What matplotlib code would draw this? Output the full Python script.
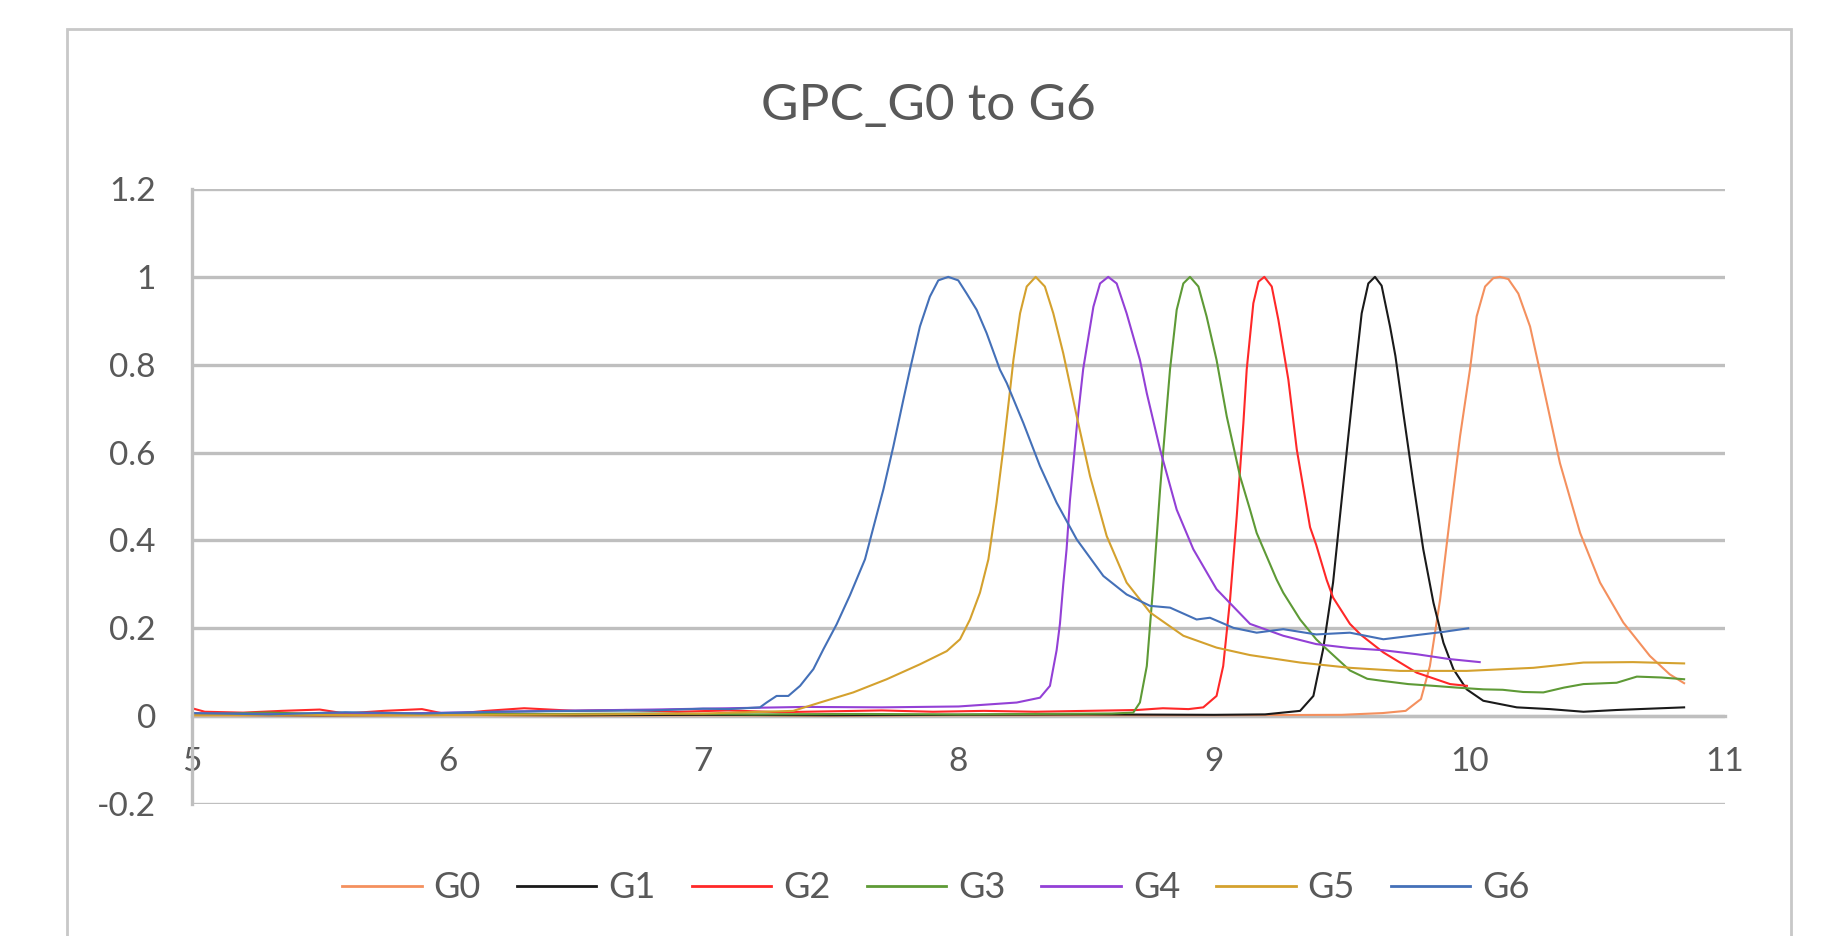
#!/usr/bin/python3

import numpy as np
import matplotlib
matplotlib.use('Agg')
import matplotlib.pyplot as plt
from matplotlib.patches import Rectangle

# ---- data (elution time, normalised signal) ----
series_names = ['G0', 'G1', 'G2', 'G3', 'G4', 'G5', 'G6']
series_colors = ['#F4905E', '#1A1A1A', '#FF2828', '#5E9A36', '#9340D6', '#D4A12E', '#4470B8']

g0_x = [5.0, 5.5, 6.0, 6.5, 7.0, 7.5, 8.0, 8.5, 9.0, 9.5, 9.66, 9.75, 9.81, 9.845, 9.885,
        9.924, 9.963, 10.002, 10.028, 10.061, 10.093, 10.119, 10.152, 10.191, 10.237, 10.283,
        10.354, 10.433, 10.511, 10.602, 10.706, 10.784, 10.84]
g0_y = [0.002, 0.001, 0.002, 0.001, 0.002, 0.001, 0.002, 0.002, 0.002, 0.003, 0.007, 0.012,
        0.039, 0.114, 0.266, 0.455, 0.637, 0.79, 0.91, 0.978, 0.997, 1.0, 0.995, 0.962, 0.887,
        0.766, 0.576, 0.417, 0.304, 0.213, 0.137, 0.095, 0.075]

g1_x = [5.0, 5.5, 6.0, 6.5, 7.0, 7.5, 8.0, 8.5, 9.0, 9.2, 9.337, 9.389, 9.427, 9.466, 9.493,
        9.519, 9.552, 9.578, 9.604, 9.630, 9.656, 9.689, 9.71, 9.741, 9.78, 9.819, 9.859,
        9.898, 9.937, 9.989, 10.054, 10.185, 10.315, 10.446, 10.576, 10.706, 10.84]
g1_y = [0.003, 0.002, 0.003, 0.002, 0.003, 0.002, 0.003, 0.004, 0.003, 0.004, 0.012, 0.046,
        0.152, 0.304, 0.455, 0.6, 0.781, 0.917, 0.985, 1.0, 0.98, 0.887, 0.82, 0.69, 0.531,
        0.38, 0.258, 0.167, 0.107, 0.061, 0.035, 0.02, 0.016, 0.01, 0.014, 0.017, 0.02]

g2_x = [5.0, 5.05, 5.2, 5.35, 5.5, 5.6, 5.75, 5.9, 6.0, 6.15, 6.3, 6.5, 6.7, 6.9, 7.1, 7.3,
        7.5, 7.7, 7.9, 8.1, 8.3, 8.5, 8.7, 8.8, 8.9, 8.958, 9.01, 9.036, 9.063, 9.089, 9.115,
        9.128, 9.154, 9.174, 9.197, 9.226, 9.252, 9.291, 9.324, 9.376, 9.40, 9.441, 9.466,
        9.532, 9.575, 9.663, 9.793, 9.924, 9.99]
g2_y = [0.018, 0.01, 0.008, 0.012, 0.015, 0.006, 0.012, 0.016, 0.004, 0.012, 0.018, 0.012,
        0.014, 0.01, 0.013, 0.009, 0.011, 0.013, 0.01, 0.012, 0.01, 0.012, 0.014, 0.018, 0.016,
        0.02, 0.046, 0.114, 0.266, 0.455, 0.667, 0.789, 0.94, 0.989, 1.0, 0.978, 0.902, 0.766,
        0.607, 0.43, 0.39, 0.31, 0.27, 0.21, 0.185, 0.145, 0.099, 0.073, 0.069]

g3_x = [5.0, 5.3, 5.6, 6.0, 6.4, 6.8, 7.2, 7.6, 8.0, 8.3, 8.6, 8.684, 8.71, 8.737, 8.763,
        8.789, 8.815, 8.828, 8.854, 8.880, 8.906, 8.939, 8.971, 9.01, 9.05, 9.102, 9.141,
        9.167, 9.245, 9.271, 9.337, 9.40, 9.427, 9.532, 9.6, 9.663, 9.76, 9.859, 9.95, 10.054,
        10.13, 10.21, 10.289, 10.37, 10.446, 10.576, 10.655, 10.75, 10.84]
g3_y = [0.005, 0.008, 0.004, 0.006, 0.005, 0.006, 0.004, 0.005, 0.004, 0.005, 0.006, 0.008,
        0.031, 0.114, 0.304, 0.516, 0.7, 0.79, 0.925, 0.985, 1.0, 0.978, 0.91, 0.811, 0.682,
        0.546, 0.47, 0.417, 0.311, 0.281, 0.22, 0.175, 0.16, 0.104, 0.085, 0.08, 0.073, 0.069,
        0.065, 0.061, 0.06, 0.055, 0.054, 0.065, 0.073, 0.076, 0.09, 0.088, 0.084]

g4_x = [5.0, 5.3, 5.6, 6.0, 6.4, 6.8, 7.1, 7.4, 7.7, 8.0, 8.228, 8.319, 8.358, 8.384, 8.397,
        8.41, 8.423, 8.436, 8.463, 8.488, 8.502, 8.528, 8.554, 8.586, 8.619, 8.658, 8.71,
        8.737, 8.789, 8.854, 8.919, 9.01, 9.141, 9.271, 9.40, 9.532, 9.663, 9.793, 9.92, 10.04]
g4_y = [0.006, 0.005, 0.004, 0.008, 0.012, 0.015, 0.018, 0.021, 0.02, 0.022, 0.031, 0.042,
        0.069, 0.15, 0.21, 0.30, 0.38, 0.49, 0.659, 0.79, 0.84, 0.932, 0.985, 1.0, 0.985,
        0.917, 0.811, 0.735, 0.607, 0.47, 0.38, 0.289, 0.21, 0.183, 0.164, 0.155, 0.15, 0.141,
        0.13, 0.123]

g5_x = [5.0, 5.4, 5.8, 6.2, 6.6, 7.0, 7.353, 7.458, 7.588, 7.719, 7.849, 7.954, 8.006, 8.045,
        8.084, 8.117, 8.149, 8.175, 8.202, 8.215, 8.241, 8.267, 8.302, 8.338, 8.371, 8.41,
        8.463, 8.515, 8.58, 8.658, 8.75, 8.88, 9.01, 9.141, 9.337, 9.532, 9.728, 9.989, 10.25,
        10.446, 10.64, 10.84]
g5_y = [0.002, 0.003, 0.002, 0.003, 0.004, 0.006, 0.012, 0.031, 0.054, 0.084, 0.118, 0.148,
        0.175, 0.22, 0.281, 0.357, 0.486, 0.607, 0.743, 0.811, 0.917, 0.978, 1.0, 0.978, 0.917,
        0.826, 0.682, 0.546, 0.41, 0.304, 0.236, 0.183, 0.156, 0.139, 0.122, 0.11, 0.103, 0.103,
        0.11, 0.122, 0.123, 0.12]

g6_x = [5.0, 5.3, 5.6, 5.9, 6.2, 6.5, 6.8, 7.0, 7.1, 7.223, 7.249, 7.288, 7.334, 7.38, 7.432,
        7.471, 7.523, 7.575, 7.634, 7.706, 7.745, 7.784, 7.81, 7.849, 7.888, 7.921, 7.96,
        7.999, 8.032, 8.071, 8.11, 8.162, 8.189, 8.254, 8.319, 8.384, 8.463, 8.567, 8.658,
        8.75, 8.828, 8.932, 8.984, 9.076, 9.167, 9.271, 9.40, 9.532, 9.663, 9.80, 9.90, 9.995]
g6_y = [0.007, 0.004, 0.009, 0.006, 0.01, 0.012, 0.013, 0.017, 0.016, 0.02, 0.031, 0.046,
        0.046, 0.069, 0.107, 0.152, 0.209, 0.275, 0.357, 0.516, 0.614, 0.72, 0.789, 0.887,
        0.955, 0.992, 1.0, 0.992, 0.962, 0.925, 0.872, 0.789, 0.758, 0.667, 0.569, 0.486,
        0.402, 0.319, 0.277, 0.251, 0.247, 0.22, 0.224, 0.201, 0.19, 0.198, 0.186, 0.19, 0.175,
        0.185, 0.192, 0.2]

series_x = [g0_x, g1_x, g2_x, g3_x, g4_x, g5_x, g6_x]
series_y = [g0_y, g1_y, g2_y, g3_y, g4_y, g5_y, g6_y]

x_ticks = [5, 6, 7, 8, 9, 10, 11]
y_ticks = [-0.2, 0, 0.2, 0.4, 0.6, 0.8, 1, 1.2]
y_tick_labels = ['-0.2', '0', '0.2', '0.4', '0.6', '0.8', '1', '1.2']
title = 'GPC_G0 to G6'


def plot_gpc():
    """
    """
    plt.rcParams['font.family'] = ['Lato', 'DejaVu Sans']
    text_color = '#595959'
    grid_color = '#BFBFBF'

    fig = plt.figure(figsize=(18.24, 9.36), dpi=100)
    ax = fig.add_axes([192/1824, 1-804/936, (1725-192)/1824, (804-189)/936])

    for xs, ys, name, col in zip(series_x, series_y, series_names, series_colors):
        ax.plot(xs, ys, color=col, linewidth=1.5, label=name, zorder=3,
                solid_joinstyle='round')

    ax.set_xlim(5, 11)
    ax.set_ylim(-0.2, 1.2)
    ax.set_yticks(y_ticks)
    ax.set_yticklabels(y_tick_labels)
    ax.set_xticks(x_ticks)
    ax.set_xticklabels([str(v) for v in x_ticks])

    # excel-like axes: horizontal axis crosses at 0
    ax.grid(axis='y', color=grid_color, linewidth=2.4, zorder=0)
    ax.set_axisbelow(True)
    for s in ['top', 'right']:
        ax.spines[s].set_visible(False)
    ax.spines['bottom'].set_position(('data', 0))
    ax.spines['bottom'].set_color(grid_color)
    ax.spines['bottom'].set_linewidth(2.4)
    ax.spines['left'].set_color(grid_color)
    ax.spines['left'].set_linewidth(2.4)
    ax.spines['left'].set_zorder(4)

    ax.tick_params(axis='both', length=0, labelsize=24, labelcolor=text_color)
    ax.tick_params(axis='y', pad=26)
    ax.tick_params(axis='x', pad=22)

    fig.text(928/1824, 1-120/936, title, ha='center', va='baseline',
             fontsize=37, color=text_color)

    leg = fig.legend(loc='center', bbox_to_anchor=(936/1824, 1-888/936), ncol=7,
                     frameon=False, fontsize=26, handlelength=2.2, handletextpad=0.33,
                     columnspacing=1.0, labelcolor=text_color)
    for ln in leg.get_lines():
        ln.set_linewidth(2.0)

    # chart area border
    fig.patches.append(Rectangle((67/1824, -0.05), (1791-67)/1824, 1.05-29/936,
                                 transform=fig.transFigure, fill=False,
                                 edgecolor='#C8C8C8', linewidth=2.0))

    plt.savefig('out.png', dpi=100, facecolor='white')


if __name__ == '__main__':
    plot_gpc()
